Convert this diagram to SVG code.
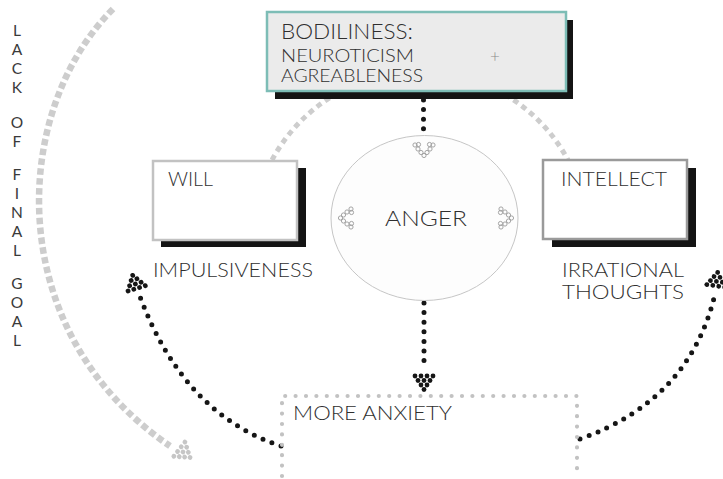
<svg xmlns="http://www.w3.org/2000/svg" xmlns:xlink="http://www.w3.org/1999/xlink" width="723" height="479" viewBox="0 0 723 479">
  <style>
    .lbl { font-family: Lato, "Open Sans", "Liberation Sans", sans-serif; font-weight: 300; fill: #2f2f2f; }
    .vert { font-size: 15.5px; font-weight: 400; fill: #3a3a3a; text-anchor: middle; }
    .shadow { fill: #141414; }
    .gdash { fill: none; stroke: #cdcdcd; stroke-linecap: butt; }
    .bdots { fill: none; stroke: #161616; stroke-width: 5; stroke-linecap: round; stroke-dasharray: 0 9.6; }
    .gdots { fill: none; stroke: #c2c2c2; stroke-width: 4.2; stroke-linecap: round; stroke-dasharray: 0 10.4; }
  </style>
  <defs>
    <!-- arrowhead built from dots, apex at origin, pointing down (+y) -->
    <g id="dothead">
      <circle cx="-9" cy="-16" r="2.4"/><circle cx="-3" cy="-16" r="2.4"/><circle cx="3" cy="-16" r="2.4"/><circle cx="9" cy="-16" r="2.4"/>
      <circle cx="-6" cy="-11.5" r="2.4"/><circle cx="0" cy="-11.5" r="2.4"/><circle cx="6" cy="-11.5" r="2.4"/>
      <circle cx="-3" cy="-7" r="2.4"/><circle cx="3" cy="-7" r="2.4"/>
      <circle cx="0" cy="-2.5" r="2.4"/>
    </g>
    <!-- hollow ring chevron, apex at origin, pointing down -->
    <g id="ringhead" fill="none" stroke="#9a9a9a" stroke-width="0.9">
      <circle cx="-9" cy="-12" r="2.1"/><circle cx="9" cy="-12" r="2.1"/>
      <circle cx="-5.5" cy="-12.5" r="2.1"/><circle cx="5.5" cy="-12.5" r="2.1"/>
      <circle cx="-6" cy="-8" r="2.1"/><circle cx="6" cy="-8" r="2.1"/>
      <circle cx="-3" cy="-4.5" r="2.1"/><circle cx="3" cy="-4.5" r="2.1"/>
      <circle cx="0" cy="-1.5" r="2.1"/>
    </g>
  </defs>

  <!-- vertical caption -->
  <g id="caption" class="lbl vert">
    <text x="17" y="36">L</text>
    <text x="17" y="55">A</text>
    <text x="17" y="74">C</text>
    <text x="17" y="93">K</text>
    <text x="17" y="128">O</text>
    <text x="17" y="147">F</text>
    <text x="17" y="180">F</text>
    <text x="17" y="199">I</text>
    <text x="17" y="218">N</text>
    <text x="17" y="237">A</text>
    <text x="17" y="256">L</text>
    <text x="17" y="289">G</text>
    <text x="17" y="308">O</text>
    <text x="17" y="327">A</text>
    <text x="17" y="346">L</text>
  </g>

  <!-- connectors -->
  <g id="connectors">
    <!-- large grey arc on the left -->
    <path class="gdash" stroke-width="6.5" stroke-dasharray="6.5 3.4" d="M 113 9 C 10 112, 2 332, 170 446"/>
    <use xlink:href="#dothead" fill="#c6c6c6" transform="translate(192 459) rotate(-52)"/>
    <!-- upper grey arc around the centre -->
    <path class="gdash" stroke-width="5" stroke-dasharray="5.5 4.5" d="M 272 160 A 168 168 0 0 1 568 160"/>
    <!-- bodiliness to anger -->
    <path class="bdots" d="M 423.5 100 L 423.5 134"/>
    <!-- anger to more anxiety -->
    <path class="bdots" d="M 424 303 L 424 366"/>
    <use xlink:href="#dothead" fill="#161616" transform="translate(424 392)"/>
    <!-- more anxiety back to will -->
    <path class="bdots" d="M 281 446 Q 183 414 139 294"/>
    <use xlink:href="#dothead" fill="#161616" transform="translate(132 273) rotate(163)"/>
    <!-- more anxiety back to intellect -->
    <path class="bdots" d="M 580 439 Q 690 400 715 294"/>
    <use xlink:href="#dothead" fill="#161616" transform="translate(718 270) rotate(-172)"/>
  </g>

  <!-- bodiliness -->
  <g id="bodiliness">
    <rect class="shadow" x="275" y="20" width="298" height="79"/>
    <rect x="267" y="12" width="299" height="79" fill="#ebebeb" stroke="#7dbdb6" stroke-width="2.5"/>
    <text class="lbl" x="281" y="39" font-size="21" textLength="132" lengthAdjust="spacingAndGlyphs">BODILINESS:</text>
    <text class="lbl" x="281" y="62" font-size="17" textLength="133" lengthAdjust="spacingAndGlyphs">NEUROTICISM</text>
    <text class="lbl" x="281" y="82" font-size="17" textLength="142" lengthAdjust="spacingAndGlyphs">AGREABLENESS</text>
    <text class="lbl" x="495" y="62" font-size="17" text-anchor="middle" style="fill:#8a8a8a">+</text>
  </g>

  <!-- will -->
  <g id="will">
    <rect class="shadow" x="161" y="168" width="145" height="79"/>
    <rect x="153" y="161" width="144" height="79" fill="#ffffff" stroke="#c2c2c2" stroke-width="2.5"/>
    <text class="lbl" x="168" y="186" font-size="19" textLength="45" lengthAdjust="spacingAndGlyphs">WILL</text>
    <text class="lbl" x="153" y="277" font-size="19" textLength="160" lengthAdjust="spacingAndGlyphs">IMPULSIVENESS</text>
  </g>

  <!-- anger -->
  <g id="anger">
    <ellipse cx="424.5" cy="218" rx="93.5" ry="82.5" fill="#fdfdfd" stroke="#c6c6c6" stroke-width="1"/>
    <use xlink:href="#ringhead" transform="translate(424 157)"/>
    <use xlink:href="#ringhead" transform="translate(339 218) rotate(90)"/>
    <use xlink:href="#ringhead" transform="translate(513 218) rotate(-90)"/>
    <text class="lbl" x="385" y="226" font-size="22" textLength="82" lengthAdjust="spacingAndGlyphs">ANGER</text>
  </g>

  <!-- intellect -->
  <g id="intellect">
    <rect class="shadow" x="552" y="168" width="144" height="79"/>
    <rect x="543" y="160" width="144" height="79" fill="#ffffff" stroke="#9a9a9a" stroke-width="2.5"/>
    <text class="lbl" x="561" y="186" font-size="20" textLength="106" lengthAdjust="spacingAndGlyphs">INTELLECT</text>
    <text class="lbl" x="562" y="277" font-size="20" textLength="122" lengthAdjust="spacingAndGlyphs">IRRATIONAL</text>
    <text class="lbl" x="562" y="299" font-size="20" textLength="122" lengthAdjust="spacingAndGlyphs">THOUGHTS</text>
  </g>

  <!-- more anxiety -->
  <g id="more-anxiety">
    <path class="gdots" d="M 282 476 L 282 396 L 577 396 L 577 476"/>
    <text class="lbl" x="293" y="420" font-size="20" textLength="159" lengthAdjust="spacingAndGlyphs">MORE ANXIETY</text>
  </g>
</svg>
